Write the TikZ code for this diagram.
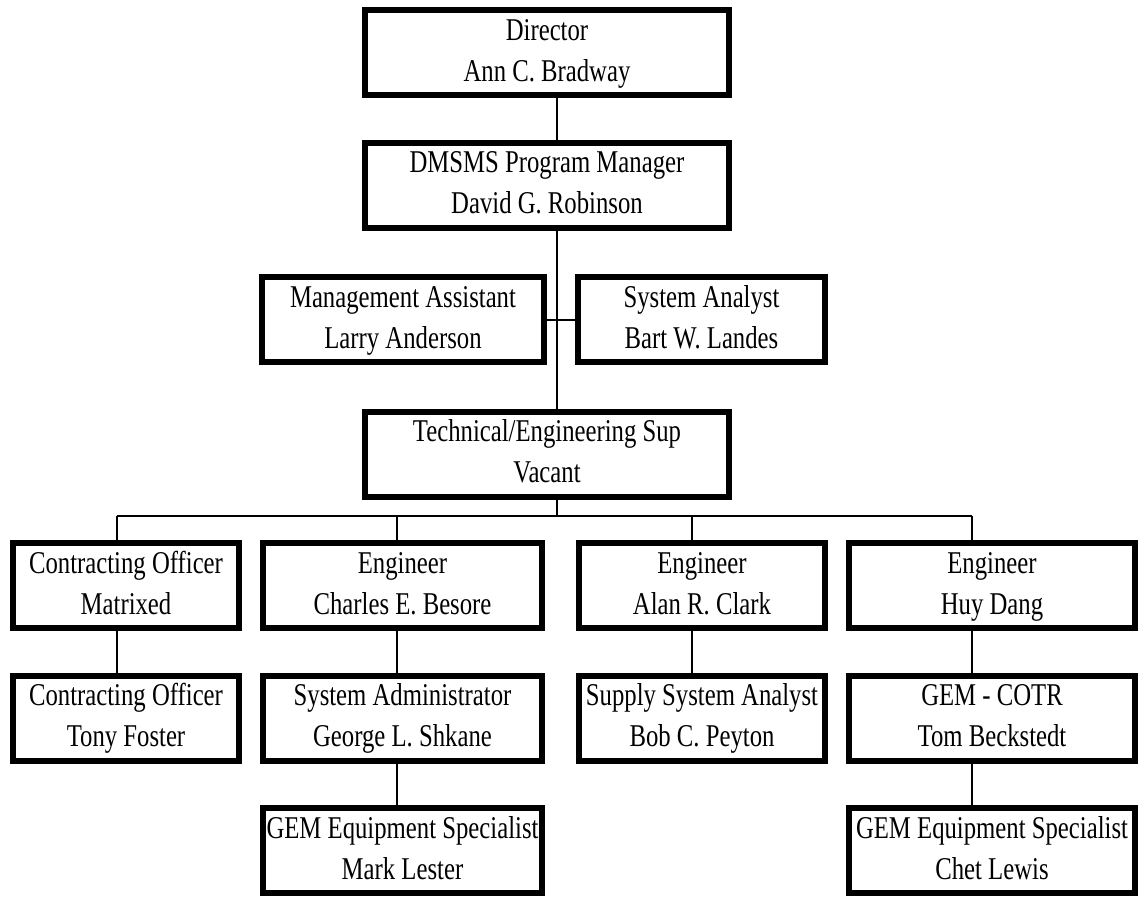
\documentclass[tikz,border=0pt]{standalone}
\usepackage{fontspec}
\setmainfont[FakeStretch=0.78]{Liberation Serif}
\newcommand{\job}[2]{\strut#1\\\strut#2}
\tikzset{
  post/.style={draw, line width=6pt, inner sep=0pt, minimum height=85pt, align=center,
    font=\fontsize{31.7}{41}\selectfont},
  link/.style={line width=2pt}
}
\begin{document}
\begin{tikzpicture}[x=1pt, y=-1pt]
\useasboundingbox (0,0) rectangle (1141,897);
\node[post, minimum width=364pt] (dir) at (547,52.5){\job{Director}{Ann C. Bradway}};
\node[post, minimum width=364pt] (pm) at (547,185){\job{DMSMS Program Manager}{David G. Robinson}};
\node[post, minimum width=282pt] (ma) at (403,319.5){\job{Management Assistant}{Larry Anderson}};
\node[post, minimum width=247pt] (sa) at (701.5,319.5){\job{System Analyst}{Bart W. Landes}};
\node[post, minimum width=364pt] (tech) at (547,454){\job{Technical/Engineering Sup}{Vacant}};
\coordinate (spine) at (557,0);
\coordinate (bt) at (557,516);
\coordinate (b1) at (117,516);
\coordinate (b2) at (397,516);
\coordinate (b3) at (692,516);
\coordinate (b4) at (972,516);
\node[post, minimum width=226pt] (co1) at (126,585.5){\job{Contracting Officer}{Matrixed}};
\node[post, minimum width=279pt] (eng1) at (402.5,585.5){\job{Engineer}{Charles E. Besore}};
\node[post, minimum width=246pt] (eng2) at (702,585.5){\job{Engineer}{Alan R. Clark}};
\node[post, minimum width=286pt] (eng3) at (992,585.5){\job{Engineer}{Huy Dang}};
\node[post, minimum width=226pt] (co2) at (126,718){\job{Contracting Officer}{Tony Foster}};
\node[post, minimum width=279pt] (sysadm) at (402.5,718){\job{System Administrator}{George L. Shkane}};
\node[post, minimum width=246pt] (ssa) at (702,718){\job{Supply System Analyst}{Bob C. Peyton}};
\node[post, minimum width=286pt] (cotr) at (992,718){\job{GEM - COTR}{Tom Beckstedt}};
\node[post, minimum width=279pt] (ges1) at (402.5,850.5){\job{GEM Equipment Specialist}{Mark Lester}};
\node[post, minimum width=286pt] (ges2) at (992,850.5){\job{GEM Equipment Specialist}{Chet Lewis}};
\draw[link](dir.south -| spine) -- (pm.north -| spine);
\draw[link](pm.south -| spine) -- (tech.north -| spine);
\draw[link](ma.east) -- (sa.west);
\draw[link](tech.south -| spine) -- (bt);
\draw[link](b1) -- (b4);
\draw[link](b1) -- (co1.north -| b1);
\draw[link](b2) -- (eng1.north -| b2);
\draw[link](b3) -- (eng2.north -| b3);
\draw[link](b4) -- (eng3.north -| b4);
\draw[link](co1.south -| b1) -- (co2.north -| b1);
\draw[link](eng1.south -| b2) -- (sysadm.north -| b2);
\draw[link](eng2.south -| b3) -- (ssa.north -| b3);
\draw[link](eng3.south -| b4) -- (cotr.north -| b4);
\draw[link](sysadm.south -| b2) -- (ges1.north -| b2);
\draw[link](cotr.south -| b4) -- (ges2.north -| b4);
\end{tikzpicture}
\end{document}
